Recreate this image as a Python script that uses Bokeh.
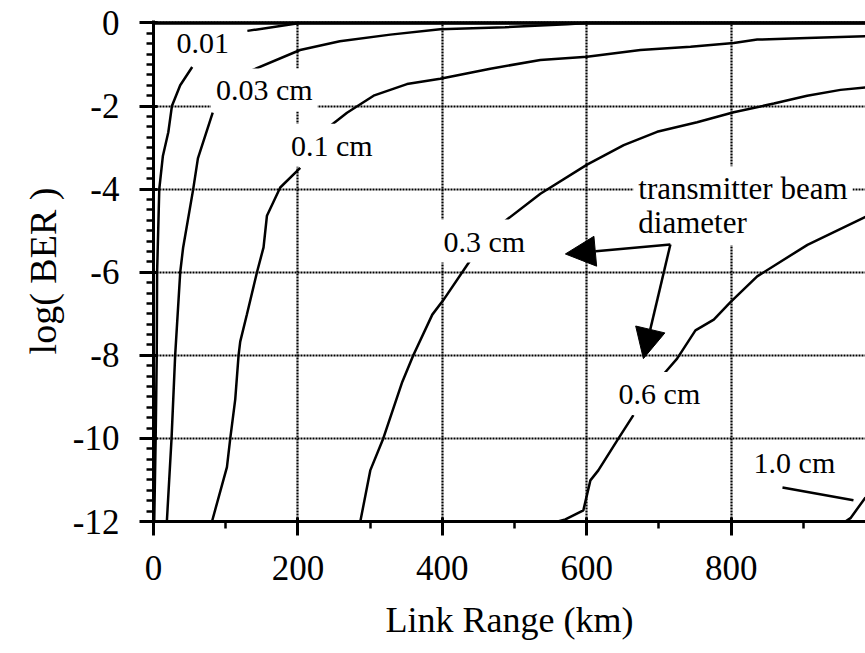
import numpy as np
from bokeh.plotting import figure
from bokeh.models import Range1d, FixedTicker, Span, Label, Arrow, NormalHead
from bokeh.embed import file_html
from bokeh.resources import INLINE

nan = np.nan

# ---- axis ticks ----
x_ticks = [0, 200, 400, 600, 800]
x_tick_labels = ["0", "200", "400", "600", "800"]
y_ticks = [0, -2, -4, -6, -8, -10, -12]
y_tick_labels = ["0", "-2", "-4", "-6", "-8", "-10", "-12"]

# ---- curve labels (transmitter beam diameter) ----
beam_labels = ["0.01", "0.03 cm", "0.1 cm", "0.3 cm", "0.6 cm", "1.0 cm"]
note_lines = ["transmitter beam", "diameter"]

# ---- curves: log(BER) vs link range (km); NaN = break where the label sits ----
x_001 = [1, 3, 4.5, 5, 8, 13, 20.5, 25.5, 37, 53.6, nan, 130, 203, 986]
y_001 = [-12, -10, -8, -6, -4, -3.2, -2.63, -2.0, -1.5, -1.06, nan, -0.19, 0, 0]

x_003 = [18.5, 25, 30, 37, 41, 55, 61.5, 82, nan, 136, 203, 258, 328, 397, 487, 573, 600, 986]
y_003 = [-12, -10, -8, -6, -5.41, -4, -3.26, -2.16, nan, -1.14, -0.65, -0.44, -0.28, -0.15, -0.1, -0.03, 0, 0]

x_01 = [81, 101.7, 106.3, 113.2, 117.8, 120.1, 129.4, 143.3, 152.4, 157.1, 175.5, 203.2,
        nan, 242.4, 268, 304.8, 351, 397, 466.5, 535.7, 600.4, 674.3, 743.6, 803.5, 836, 905.2, 986]
y_01 = [-12, -10.69, -10, -9.06, -8, -7.67, -7.01, -6, -5.4, -4.64, -3.96, -3.49,
        nan, -2.51, -2.16, -1.75, -1.47, -1.34, -1.1, -0.89, -0.81, -0.65, -0.57, -0.48, -0.4, -0.36, -0.32]

x_03 = [286.4, 300.2, 318.2, 344.5, 359.8, 386.1, 401.4, 438.8,
        nan, 487.3, 535.8, 600.4, 651.2, 697.4, 752.8, 803.5, 859, 905.2, 951.4, 986]
y_03 = [-12, -10.77, -10, -8.64, -8, -7.02, -6.67, -5.71,
        nan, -4.76, -4.11, -3.41, -2.94, -2.62, -2.39, -2.15, -1.94, -1.75, -1.61, -1.55]

x_06 = [560, 570.4, 595.3, 605, 616, 642.4, 664.6,
        nan, 706.6, 725.1, 750.5, 775.9, 799, 836, 905.6, 986]
y_06 = [-12, -11.95, -11.73, -11.01, -10.77, -10.04, -9.44,
        nan, -8.45, -8.08, -7.4, -7.14, -6.72, -6.1, -5.34, -4.67]

x_10 = [958, 965.2, 986]
y_10 = [-12, -11.92, -11.42]

curves = [(x_001, y_001), (x_003, y_003), (x_01, y_01), (x_03, y_03), (x_06, y_06), (x_10, y_10)]

FONT = "Liberation Serif"

p = figure(width=865, height=653, output_backend="svg", toolbar_location=None,
           x_range=Range1d(0, 986), y_range=Range1d(-12, 0.06),
           min_border_left=153, min_border_right=0, min_border_top=20, min_border_bottom=132)
p.background_fill_color = "white"
p.border_fill_color = "white"
p.outline_line_color = None

p.xaxis.ticker = FixedTicker(ticks=x_ticks, minor_ticks=[100, 300, 500, 700, 900])
p.yaxis.ticker = FixedTicker(ticks=y_ticks,
                             minor_ticks=[float(v) for v in np.arange(-12, 0.001, 0.25) if v not in y_ticks])
p.xaxis.major_label_overrides = {t: s for t, s in zip(x_ticks, x_tick_labels)}
p.yaxis.major_label_overrides = {t: s for t, s in zip(y_ticks, y_tick_labels)}

for ax in (p.xaxis[0], p.yaxis[0]):
    ax.axis_line_color = "black"
    ax.axis_line_width = 3
    ax.major_tick_line_color = "black"
    ax.minor_tick_line_color = "black"
    ax.major_tick_line_width = 3
    ax.minor_tick_line_width = 2.5
    ax.major_tick_out = 14
    ax.major_tick_in = 4
    ax.minor_tick_out = 7
    ax.minor_tick_in = 0
    ax.major_label_text_font = FONT
    ax.major_label_text_font_size = "35px"
    ax.major_label_text_color = "black"
    ax.major_label_standoff = 20
    ax.axis_label_text_font = FONT
    ax.axis_label_text_font_style = "normal"
    ax.axis_label_text_color = "black"

p.xaxis.axis_label = "Link Range (km)"
p.xaxis.axis_label_text_font_size = "36px"
p.xaxis.axis_label_standoff = 17
p.yaxis.axis_label = "log( BER )"
p.yaxis.axis_label_text_font_size = "38px"
p.yaxis.axis_label_standoff = 6

p.grid.grid_line_color = "black"
p.grid.grid_line_width = 2.2
p.grid.grid_line_dash = "2 1"
p.grid.grid_line_alpha = 1.0

# heavy top edge (log BER = 0)
p.add_layout(Span(location=0, dimension="width", line_color="black", line_width=3.5))

for xs, ys in curves:
    p.line(np.array(xs, dtype=float), np.array(ys, dtype=float), line_color="black", line_width=2.5)

# leader line for the 1.0 cm label
p.line([871, 969.3], [-11.18, -11.49], line_color="black", line_width=2.5)

label_pos = [(68.2, -0.50), (153.4, -1.61), (246.9, -2.94), (458.1, -5.25), (700.6, -8.92), (887.6, -10.57)]
for (lx, ly), txt in zip(label_pos, beam_labels):
    p.add_layout(Label(x=lx, y=ly, text=txt, text_align="center", text_baseline="middle",
                       text_font=FONT, text_font_size="30px", text_color="black",
                       background_fill_color="white", padding=5))

for ly, txt in zip([-3.99, -4.81], note_lines):
    p.add_layout(Label(x=664.5, y=ly, text=txt, text_align="left", text_baseline="middle",
                       text_font=FONT, text_font_size="31px", text_color="black",
                       background_fill_color="white", padding=5))

for xe, ye in [(570.4, -5.56), (678.4, -8.08)]:
    p.add_layout(Arrow(x_start=715.8, y_start=-5.33, x_end=xe, y_end=ye, line_width=2.5, line_color="black",
                       end=NormalHead(size=30, fill_color="black", line_color="black")))

open("out.html", "w").write(file_html(p, INLINE))
